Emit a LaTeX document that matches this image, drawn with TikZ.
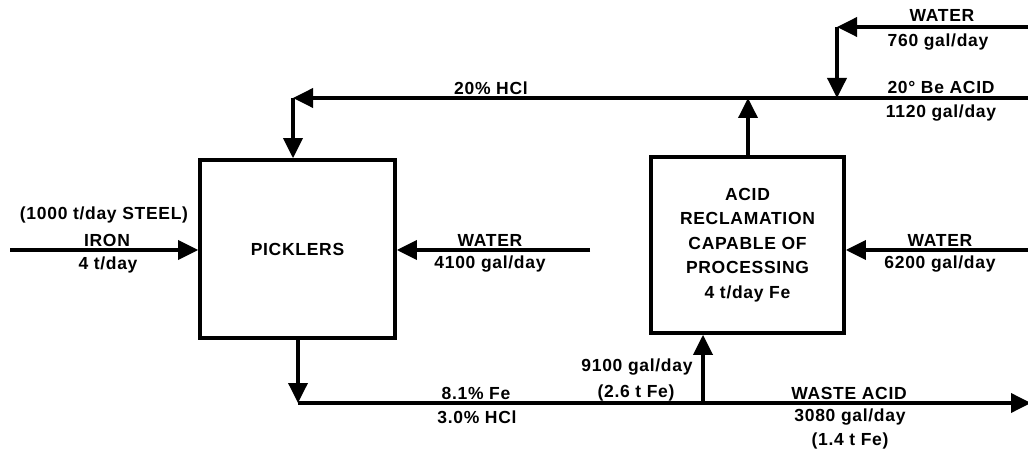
\documentclass[tikz,border=0pt]{standalone}
\usepackage{fontspec}
\setmainfont[LetterSpace=4]{Liberation Sans}
\usetikzlibrary{arrows.meta}
\begin{document}
\begin{tikzpicture}[x=1pt,y=1pt,
  flow/.style={line width=3.6pt,-{Triangle[length=20pt,width=19pt]}},
  pipe/.style={line width=3.6pt},
  unit/.style={draw,line width=3.6pt,align=center,font=\bfseries\fontsize{17.5}{24.5}\selectfont},
  lbl/.style={inner sep=0pt,align=center,font=\bfseries\fontsize{17.5}{24.5}\selectfont}]
\useasboundingbox (0,0) rectangle (1028,450);
% units
\node[unit,minimum width=195pt,minimum height=178pt] (P) at (297.5,201) {PICKLERS};
\node[unit,minimum width=193pt,minimum height=176pt] (R) at (747.5,205) {ACID\\RECLAMATION\\CAPABLE OF\\PROCESSING\\4 t/day Fe};
% coordinates
\coordinate (ironS) at (10,200);
\coordinate (pwS) at (590,200);
\coordinate (hclS) at (1030,352);
\coordinate (hclC) at (293,352);
\coordinate (rUp) at (748,352);
\coordinate (twS) at (1030,423);
\coordinate (twC) at (837,423);
\coordinate (twE) at (837,352);
\coordinate (rwS) at (1030,200);
\coordinate (bC) at (298,47);
\coordinate (bJ) at (703,47);
\coordinate (bE) at (1031,47);
% connectors
\draw[flow] (ironS) -- (ironS -| P.west);
\draw[flow] (pwS) -- (pwS -| P.east);
\draw[flow] (hclS) -- (hclC);
\draw[flow] (hclC) -- (hclC |- P.north);
\draw[flow] (rUp |- R.north) -- (rUp);
\draw[flow] (twS) -- (twC);
\draw[flow] (twC) -- (twE);
\draw[flow] (rwS) -- (rwS -| R.east);
\draw[flow] (bC |- P.south) -- (bC);
\draw[pipe] (bC) -- (bJ);
\draw[flow] (bJ) -- (bE);
\draw[flow] (bJ) -- (bJ |- R.south);
% labels
\node[lbl] (l1) at (104,235) {(1000 t/day STEEL)};
\node[lbl] (l2) at (107,210) {IRON};
\node[lbl] (l3) at (108,185) {4 t/day};
\node[lbl] (l4) at (490,210) {WATER};
\node[lbl] (l5) at (490,186) {4100 gal/day};
\node[lbl] (l6) at (491,362) {20\% HCl};
\node[lbl] (l7) at (942,435) {WATER};
\node[lbl] (l8) at (938,408) {760 gal/day};
\node[lbl] (l9) at (941,363) {20° Be ACID};
\node[lbl] (l10) at (941,337) {1120 gal/day};
\node[lbl] (l11) at (940,210) {WATER};
\node[lbl] (l12) at (940,186) {6200 gal/day};
\node[lbl] (l13) at (637,83) {9100 gal/day};
\node[lbl] (l14) at (636,57.5) {(2.6 t Fe)};
\node[lbl] (l15) at (476,57) {8.1\% Fe};
\node[lbl] (l16) at (477,32.5) {3.0\% HCl};
\node[lbl] (l17) at (849,57) {WASTE ACID};
\node[lbl] (l18) at (850,33) {3080 gal/day};
\node[lbl] (l19) at (850,9) {(1.4 t Fe)};
\end{tikzpicture}
\end{document}
